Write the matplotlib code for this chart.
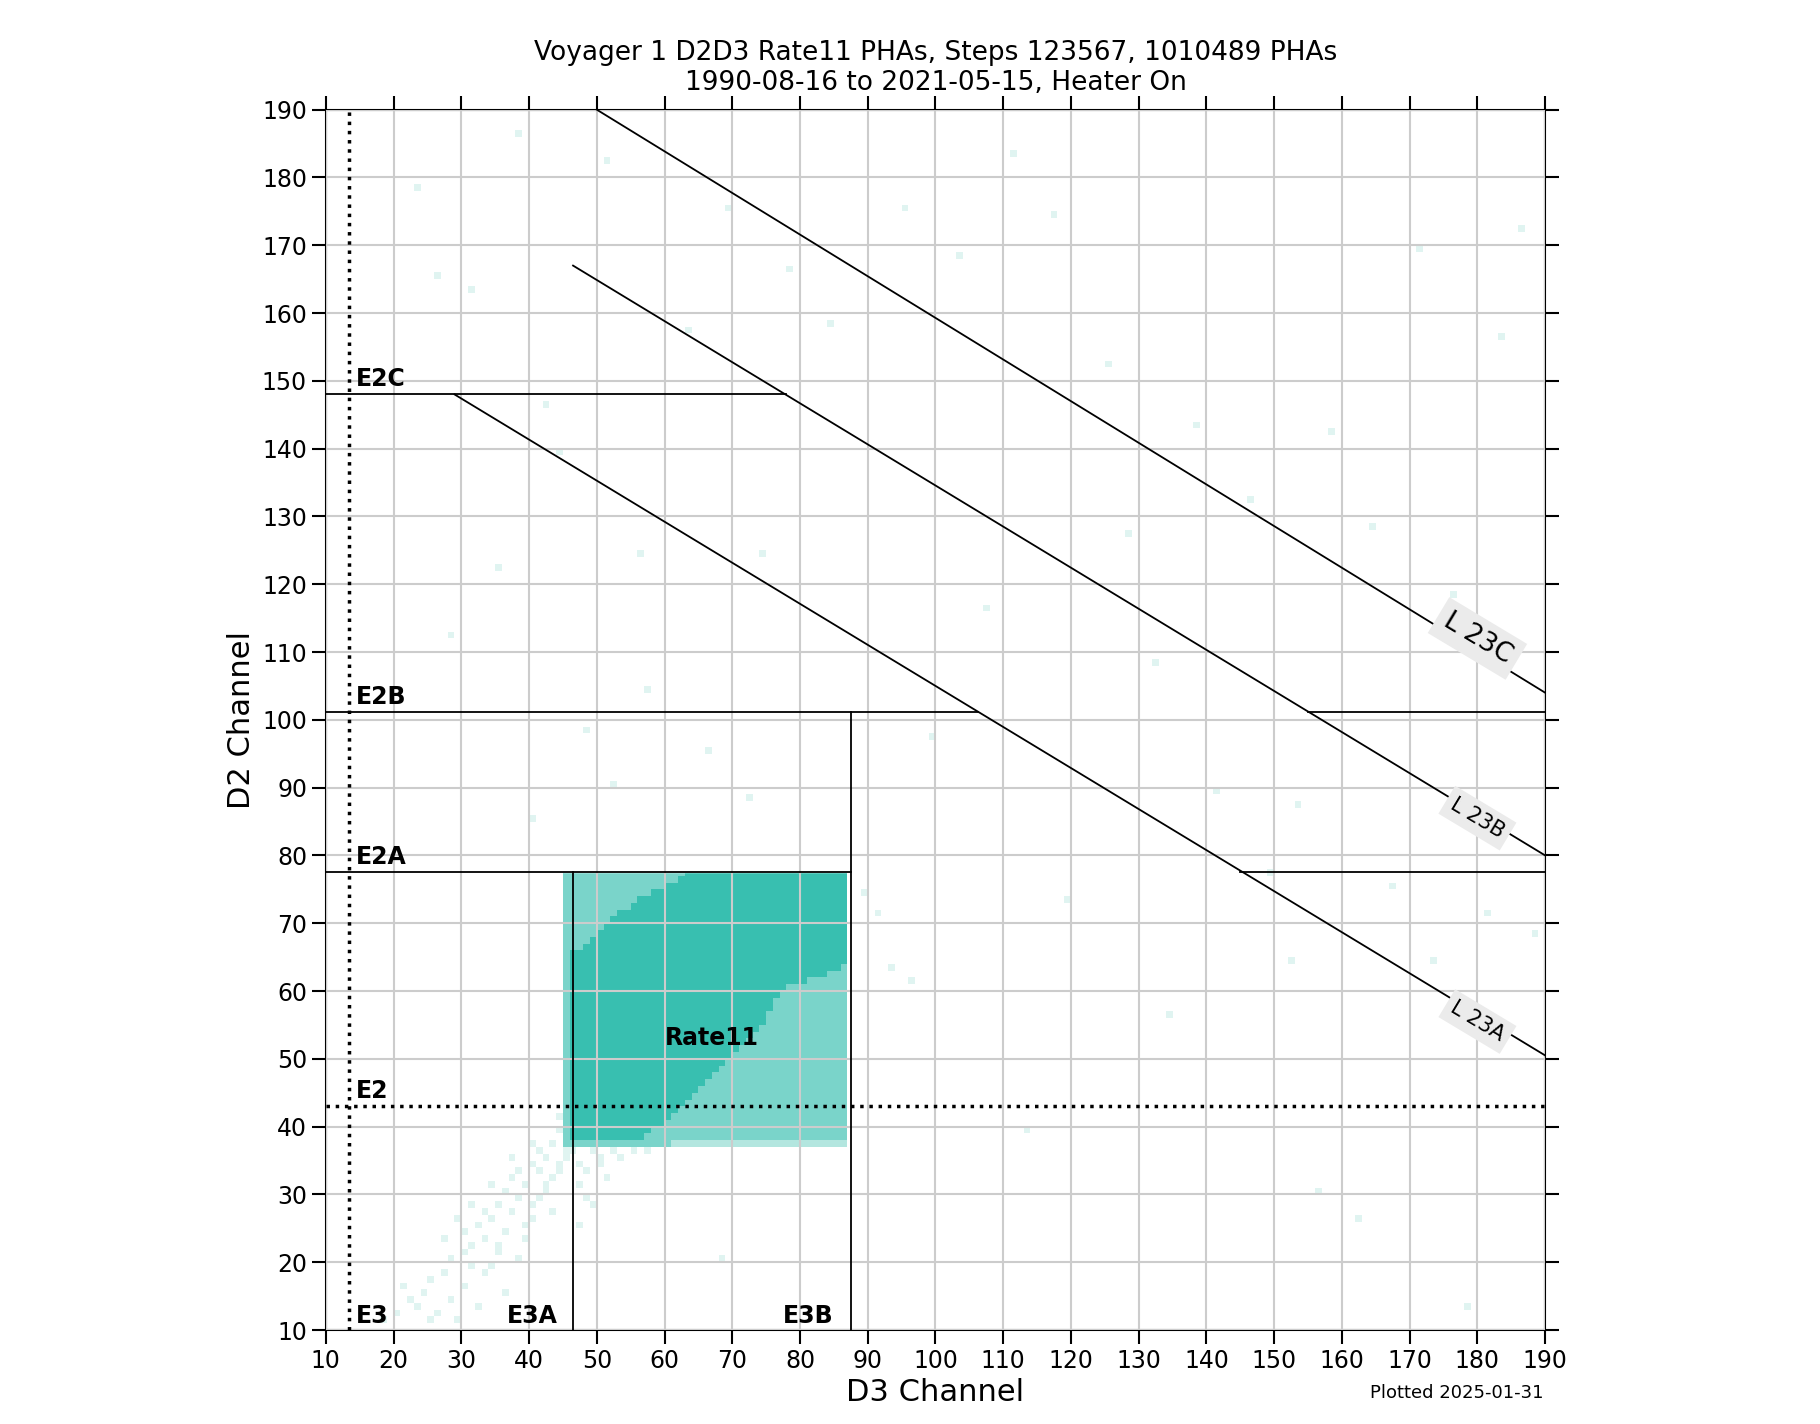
import matplotlib
matplotlib.use('Agg')
import matplotlib.pyplot as plt
from matplotlib.colors import ListedColormap, BoundaryNorm
import numpy as np

# thresholds (channels)
e3 = 13.5
e3a = 46.5
e3b = 87.5
e2 = 43.0
e2a = 77.5
e2b = 101.2
e2c = 148.0

# L23 lines: (x0, y0, x1, y1)
l23a = (29, 148, 190, 50.5)
l23b = (46.5, 167, 190, 80)
l23c = (50, 190, 190, 104)

# Rate11 block: dark area, plus lighter regions
main_x = (45, 87)
main_y = (37, 78)
wedge_y = list(range(38, 64))
wedge_x0 = [57, 58, 60, 61, 62, 63, 64, 65, 66, 67, 68, 69, 70, 71, 72, 73,
            74, 75, 75, 76, 76, 77, 78, 81, 84, 86]
ul_y = list(range(66, 78))
ul_x1 = [48, 49, 50, 51, 52, 53, 55, 56, 58, 60, 62, 63]

# diffuse low-energy cells (level 1)
diff_x = [18, 20, 22, 24, 25, 27, 28, 29, 30, 30, 31, 32, 32, 33, 33, 34, 34, 35, 35, 36,
          36, 37, 37, 38, 38, 39, 39, 40, 40, 41, 41, 42, 42, 43, 43, 44, 44, 45, 45, 46,
          26, 28, 30, 31, 33, 35, 36, 38, 39, 40, 41, 42, 43, 44, 45, 46, 47, 48, 49, 50,
          21, 23, 25, 27, 29, 31, 34, 37, 40, 44, 47, 48, 50, 51, 52, 53, 55, 57, 47, 49]
diff_y = [11, 12, 14, 15, 17, 18, 20, 11, 21, 24, 22, 25, 13, 23, 27, 26, 19, 28, 22, 24,
          30, 27, 32, 29, 33, 31, 25, 34, 28, 33, 36, 35, 30, 37, 32, 34, 39, 36, 40, 38,
          12, 14, 16, 19, 18, 21, 15, 20, 23, 26, 29, 31, 27, 33, 35, 36, 34, 33, 36, 35,
          16, 13, 11, 23, 26, 28, 31, 35, 37, 41, 31, 29, 34, 32, 36, 35, 36, 36, 25, 28]

# sparse isolated cells (level 1)
sp_x = [23, 31, 38, 42, 44, 51, 56, 63, 69, 74, 78, 84, 91, 95, 103, 111, 117, 125, 132,
        138, 146, 153, 158, 164, 171, 176, 183, 186, 26, 35, 57, 66, 72, 89, 93, 99, 107,
        119, 128, 141, 149, 156, 167, 173, 181, 188, 52, 61, 75, 82, 96, 113, 134, 152,
        162, 178, 28, 40, 48, 68]
sp_y = [178, 163, 186, 146, 139, 182, 124, 157, 175, 124, 166, 158, 71, 175, 168, 183,
        174, 152, 108, 143, 132, 87, 142, 128, 169, 118, 156, 172, 165, 122, 104, 95, 88,
        74, 63, 97, 116, 73, 127, 89, 77, 30, 75, 64, 71, 68, 90, 74, 67, 57, 61, 39, 56,
        64, 26, 13, 112, 85, 98, 20]

H = np.zeros((180, 180))


def setcell(x, y, lev):
    if 10 <= x < 190 and 10 <= y < 190:
        H[y - 10, x - 10] = max(H[y - 10, x - 10], lev)


for x, y in zip(diff_x, diff_y):
    setcell(x, y, 1)
for x, y in zip(sp_x, sp_y):
    setcell(x, y, 1)
for y in range(main_y[0], main_y[1]):
    for x in range(main_x[0], main_x[1]):
        H[y - 10, x - 10] = 4
for y, x0 in zip(wedge_y, wedge_x0):
    for x in range(x0, main_x[1]):
        H[y - 10, x - 10] = 3
for y, x1 in zip(ul_y, ul_x1):
    for x in range(main_x[0], x1):
        H[y - 10, x - 10] = 3
for x in range(main_x[0], main_x[1]):
    H[37 - 10, x - 10] = 2 if x > 60 else 3
for y in range(main_y[0], main_y[1]):
    H[y - 10, 45 - 10] = 3

cmap = ListedColormap(['#ffffff', '#e0f4f1', '#b3e6df', '#7ad4ca', '#38bfb0'])
norm = BoundaryNorm([-0.5, 0.5, 1.5, 2.5, 3.5, 4.5], cmap.N)

fig = plt.figure(figsize=(18.2, 14.24), dpi=100)
ax = fig.add_axes([0.179, 0.066, 0.670, 0.857])
edges = np.arange(10, 191)
ax.pcolormesh(edges, edges, H, cmap=cmap, norm=norm, zorder=1)
# keep the block under the E2A line
ax.set_ylim(10, 190)

ax.set_xlim(10, 190)
ax.set_xticks(np.arange(10, 191, 10))
ax.set_yticks(np.arange(10, 191, 10))
ax.grid(True, color='#cccccc', linewidth=1.5, zorder=2)
ax.set_axisbelow(False)
ax.tick_params(which='both', direction='out', length=10, width=1.5, labelsize=17,
               top=True, right=True)
for s in ax.spines.values():
    s.set_linewidth(1.5)

# white cover above E2A (block bins stop at 77.5)
ax.fill_between([main_x[0], e3b], e2a, 78, color='white', zorder=1.5)

lk = dict(color='black', linewidth=1.3, zorder=3)
ax.axvline(e3, color='black', linestyle=':', linewidth=2.5, zorder=3)
ax.axhline(e2, color='black', linestyle=':', linewidth=2.5, zorder=3)
ax.plot([10, e3b], [e2a, e2a], **lk)
ax.plot([145, 190], [e2a, e2a], **lk)
ax.plot([10, 106.3], [e2b, e2b], **lk)
ax.plot([155, 190], [e2b, e2b], **lk)
ax.plot([10, 78], [e2c, e2c], **lk)
ax.plot([e3a, e3a], [10, e2a], **lk)
ax.plot([e3b, e3b], [10, e2b], **lk)
for l in (l23a, l23b, l23c):
    ax.plot([l[0], l[2]], [l[1], l[3]], **lk)

bk = dict(fontsize=17, fontweight='bold', zorder=5)
ax.text(14.5, 11, 'E3', **bk)
ax.text(36.8, 11, 'E3A', **bk)
ax.text(77.5, 11, 'E3B', **bk)
ax.text(14.5, 44.2, 'E2', **bk)
ax.text(14.5, 78.7, 'E2A', **bk)
ax.text(14.5, 102.4, 'E2B', **bk)
ax.text(14.5, 149.2, 'E2C', **bk)
ax.text(60, 52, 'Rate11', **bk)

box = dict(boxstyle='square,pad=0.3', facecolor='#ebebeb', edgecolor='none')
ax.text(180, 112, 'L 23C', fontsize=19, rotation=-31, ha='center', va='center',
        bbox=box, zorder=6)
ax.text(180, 85.5, 'L 23B', fontsize=15, rotation=-31, ha='center', va='center',
        bbox=box, zorder=6)
ax.text(180, 55.5, 'L 23A', fontsize=15, rotation=-31, ha='center', va='center',
        bbox=box, zorder=6)

ax.set_xlabel('D3 Channel', fontsize=22)
ax.set_ylabel('D2 Channel', fontsize=22)
ax.set_title('Voyager 1 D2D3 Rate11 PHAs, Steps 123567, 1010489 PHAs\n'
             '1990-08-16 to 2021-05-15, Heater On', fontsize=19, pad=14)
fig.text(0.848, 0.018, 'Plotted 2025-01-31', fontsize=13, ha='right')

fig.savefig('out.png', dpi=100)
